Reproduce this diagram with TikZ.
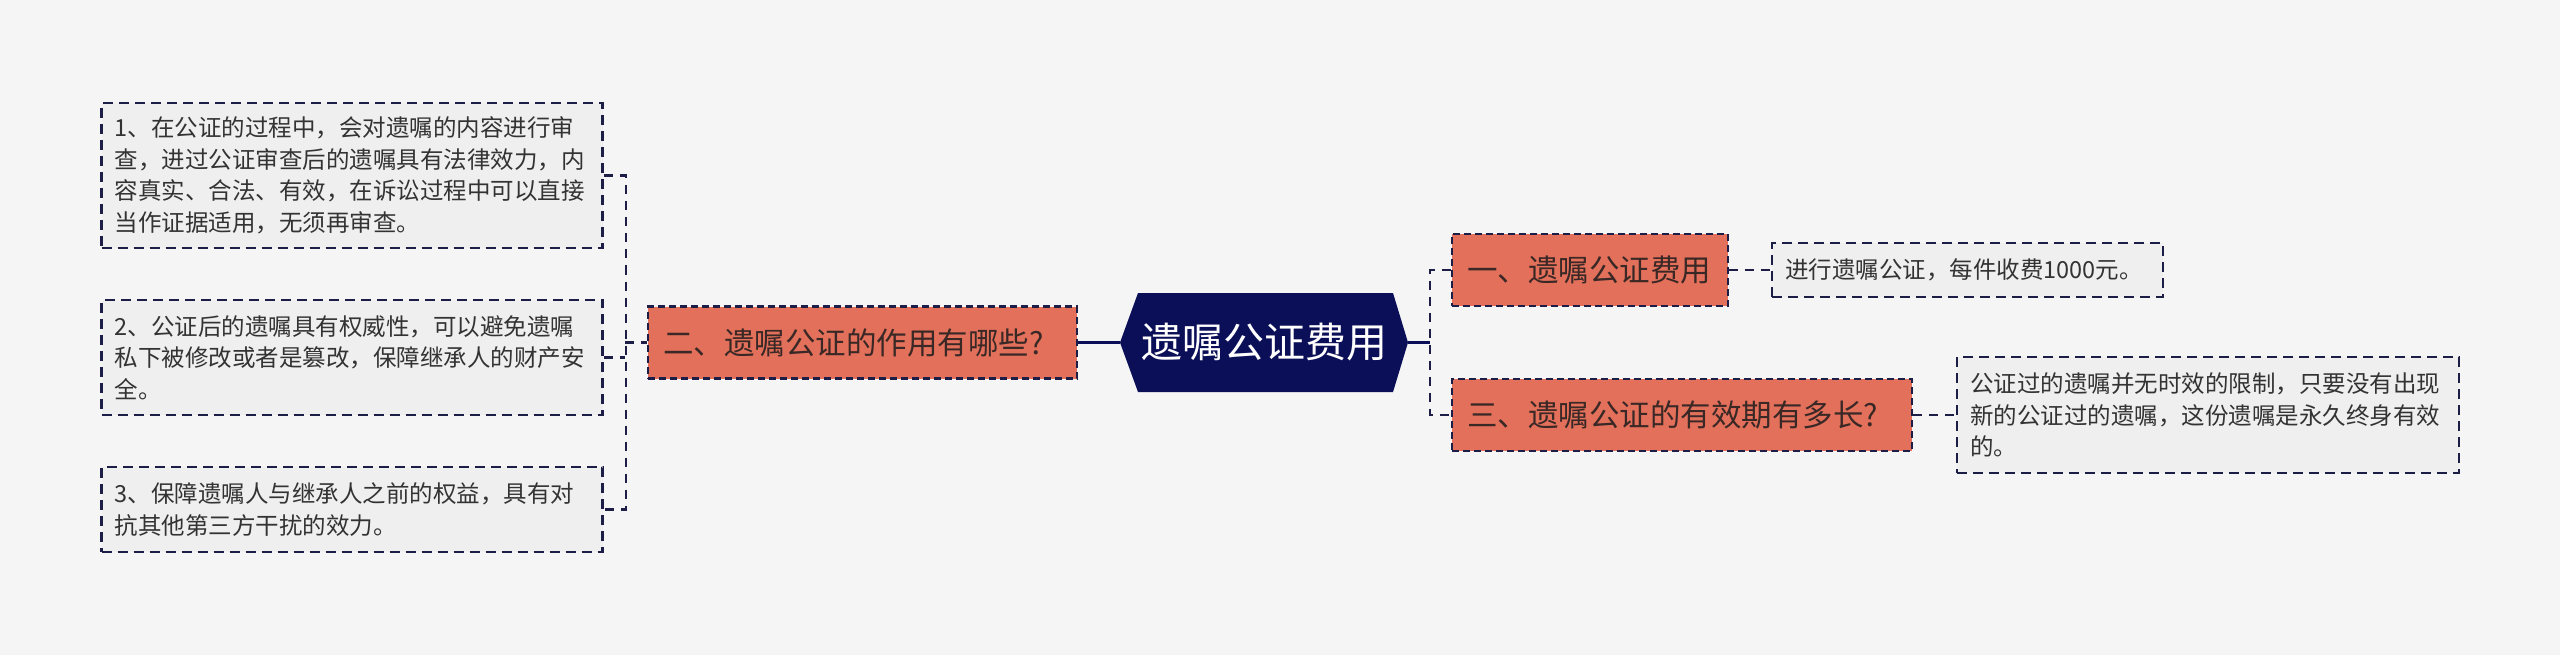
\documentclass[tikz,border=0pt]{standalone}
\usepackage{fontspec}
\setmainfont{Noto Sans CJK SC}
\definecolor{bgcol}{HTML}{F5F5F5}
\definecolor{leaffill}{HTML}{EFEFEF}
\definecolor{navy}{HTML}{0B0F57}
\definecolor{dashcol}{HTML}{1C1E48}
\definecolor{orangefill}{HTML}{E3705A}
\definecolor{leaftext}{HTML}{333333}
\definecolor{orangetext}{HTML}{3A2826}
\tikzset{
  leaf/.style={draw=dashcol, line width=2.4pt, dash pattern=on 10pt off 6pt,
    fill=leaffill, text=leaftext, align=left, inner xsep=13pt, inner ysep=0pt,
    font=\fontsize{23.5pt}{31.5pt}\selectfont},
  topic/.style={draw=dashcol, line width=2.4pt, dash pattern=on 7pt off 4pt,
    fill=orangefill, text=orangetext, align=left, inner xsep=15pt, inner ysep=0pt,
    minimum height=72pt, font=\fontsize{30.5pt}{36pt}\selectfont},
  rootnode/.style={text=white, inner sep=0pt, minimum width=288pt, minimum height=99pt,
    font=\fontsize{41pt}{48pt}\selectfont},
  conn/.style={draw=dashcol, line width=2.4pt, dash pattern=on 9pt off 7pt},
  solidconn/.style={draw=navy, line width=3pt}
}
\begin{document}
\begin{tikzpicture}[x=1pt,y=-1pt]
\fill[bgcol] (0,0) rectangle (2560,655);

% left leaves
\node[leaf, text width=475pt, minimum height=145pt] (l1) at (352,175.5)
  {1、在公证的过程中，会对遗嘱的内容进行审\\查，进过公证审查后的遗嘱具有法律效力，内\\容真实、合法、有效，在诉讼过程中可以直接\\当作证据适用，无须再审查。};
\node[leaf, text width=475pt, minimum height=115pt] (l2) at (352,357.5)
  {2、公证后的遗嘱具有权威性，可以避免遗嘱\\私下被修改或者是篡改，保障继承人的财产安\\全。};
\node[leaf, text width=475pt, minimum height=85pt] (l3) at (352,509.5)
  {3、保障遗嘱人与继承人之前的权益，具有对\\抗其他第三方干扰的效力。};

% topic nodes
\node[topic, text width=399pt] (n2) at (862.5,342.5) {二、遗嘱公证的作用有哪些?};
\node[topic, text width=246pt] (n1) at (1590,270) {一、遗嘱公证费用};
\node[topic, text width=430pt] (n3) at (1682,415) {三、遗嘱公证的有效期有多长?};

% root hexagon
\fill[navy] (1120,342.5) -- (1138,293) -- (1393,293) -- (1408,342.5) -- (1393,392) -- (1138,392) -- cycle;
\node[rootnode] (root) at (1264,342.5) {遗嘱公证费用};

% right leaves
\node[leaf, text width=365pt, minimum height=54pt] (r1) at (1967.5,270)
  {进行遗嘱公证，每件收费1000元。};
\node[leaf, text width=476pt, minimum height=116pt] (r2) at (2208,415)
  {公证过的遗嘱并无时效的限制，只要没有出现\\新的公证过的遗嘱，这份遗嘱是永久终身有效\\的。};

% connectors left
\coordinate (lb) at (625,342.5);
\draw[conn] (l1.east) -- ++(22,0) |- (l3.east);
\draw[conn] (l2.east) -- (l2.east -| lb);
\draw[conn] (lb) -- (n2.west);
\draw[solidconn] (root.west) -- (n2.east);

% connectors right
\coordinate (rb) at (1430,342.5);
\draw[solidconn] (root.east) -- (rb);
\draw[conn] (n1.west) -| (rb) |- (n3.west);
\draw[conn] (n1.east) -- (r1.west);
\draw[conn] (n3.east) -- (r2.west);
\end{tikzpicture}
\end{document}
